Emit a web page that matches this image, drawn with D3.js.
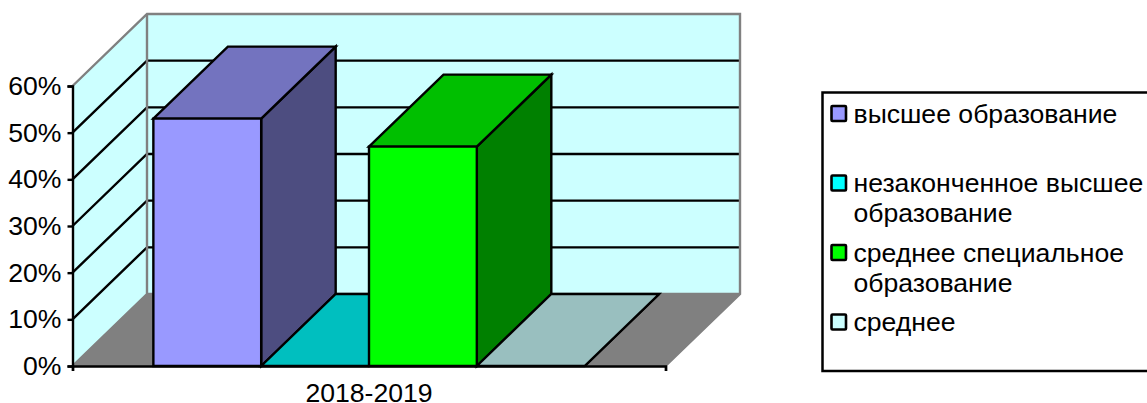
<!DOCTYPE html>
<html>
<head>
<meta charset="utf-8">
<script src="https://d3js.org/d3.v7.min.js"></script>
<style>
body { margin: 0; background: #fff; }
svg { display: block; }
text { font-family: "Liberation Sans", Arial, sans-serif; fill: #000; }
</style>
</head>
<body>
<div id="chart"></div>
<script>
const seriesNames = ["высшее образование", "незаконченное высшее образование", "среднее специальное образование", "среднее"];
const seriesValues = [53, 0, 47, 0];
const seriesColors = ["#9999ff", "#00ffff", "#00ff00", "#ccffff"];
const category = "2018-2019";
const yTicks = [0, 10, 20, 30, 40, 50, 60];
const legendLines = [["высшее образование"], ["незаконченное высшее", "образование"], ["среднее специальное", "образование"], ["среднее"]];

const width = 1147, height = 403;
const depthX = 74.5, depthY = 72;
const fontSize = 26.6;
const lineW = 2.4;

const svg = d3.select("#chart").append("svg")
    .attr("width", width)
    .attr("height", height);

const yScale = d3.scaleLinear().domain([0, 60]).range([366, 86]);
const xScale = d3.scaleBand()
    .domain(seriesNames)
    .range([72.5, 665.5])
    .paddingInner(0)
    .paddingOuter(0.75);

const x0 = xScale.range()[0], x1 = xScale.range()[1];
const y0 = yScale(0), yTop = yScale(60);

function poly(points, fill, stroke, sw) {
    svg.append("path")
        .attr("d", d3.line()(points) + "Z")
        .attr("fill", fill)
        .attr("stroke", stroke || "none")
        .attr("stroke-width", sw || 0);
}

function wire(points, color) {
    svg.append("path")
        .attr("d", d3.line()(points))
        .attr("fill", "none")
        .attr("stroke", color)
        .attr("stroke-width", lineW);
}

// walls and floor
poly([[x0, yTop], [x0 + depthX, yTop - depthY], [x1 + depthX, yTop - depthY], [x1 + depthX, y0 - depthY], [x0 + depthX, y0 - depthY], [x0, y0]], "#ccffff");
poly([[x0, y0], [x0 + depthX, y0 - depthY], [x1 + depthX, y0 - depthY], [x1, y0]], "#808080");

// grid lines
yTicks.slice(1, -1).forEach(t => {
    wire([[x0, yScale(t)], [x0 + depthX, yScale(t) - depthY], [x1 + depthX, yScale(t) - depthY]], "#000");
});

// wall outline
wire([[x0, yTop], [x0 + depthX, yTop - depthY], [x1 + depthX, yTop - depthY], [x1 + depthX, y0 - depthY], [x1, y0]], "#808080");
wire([[x0 + depthX, yTop - depthY], [x0 + depthX, y0 - depthY], [x0, y0]], "#808080");
wire([[x0 + depthX, y0 - depthY], [x1 + depthX, y0 - depthY]], "#808080");

// bars
seriesNames.forEach((name, i) => {
    const col = d3.rgb(seriesColors[i]);
    const shade = k => d3.rgb(col.r * k, col.g * k, col.b * k).formatHex();
    const l = xScale(name), r = l + xScale.bandwidth(), t = yScale(seriesValues[i]);
    poly([[r, t], [r + depthX, t - depthY], [r + depthX, y0 - depthY], [r, y0]], shade(0.5), "#000", lineW);
    poly([[l, t], [l + depthX, t - depthY], [r + depthX, t - depthY], [r, t]], shade(0.75), "#000", lineW);
    if (seriesValues[i] > 0) poly([[l, t], [r, t], [r, y0], [l, y0]], seriesColors[i], "#000", lineW);
});

// axes
const yAxis = d3.axisLeft(yScale)
    .tickValues(yTicks)
    .tickFormat(d => d + "%")
    .tickSize(5)
    .tickPadding(6);
const yG = svg.append("g").attr("transform", `translate(${x0},0)`).call(yAxis);
yG.selectAll("path, line").attr("stroke", "#000").attr("stroke-width", lineW);
yG.selectAll("text")
    .attr("font-size", fontSize)
    .style("font-family", '"Liberation Sans", Arial, sans-serif')
    .attr("fill", "#000");

const xAxis = d3.axisBottom(d3.scaleLinear().domain([0, 1]).range([x0, x1]))
    .tickValues([0, 1])
    .tickFormat("")
    .tickSize(5);
const xG = svg.append("g").attr("transform", `translate(0,${y0})`).call(xAxis);
xG.selectAll("path, line").attr("stroke", "#000").attr("stroke-width", lineW);

svg.append("text")
    .attr("x", (x0 + x1) / 2)
    .attr("y", 401.5)
    .attr("text-anchor", "middle")
    .attr("font-size", fontSize)
    .text(category);

// legend
svg.append("rect")
    .attr("x", 822.5).attr("y", 92.5)
    .attr("width", 340).attr("height", 278.5)
    .attr("fill", "#fff").attr("stroke", "#000").attr("stroke-width", 2.5);

const legendY = d3.scalePoint().domain(seriesNames).range([113.5, 322]);

seriesNames.forEach((name, i) => {
    const cy = legendY(name);
    svg.append("rect")
        .attr("x", 831.5).attr("y", cy - 7.5)
        .attr("width", 14.5).attr("height", 15)
        .attr("rx", 1)
        .attr("fill", seriesColors[i]).attr("stroke", "#000").attr("stroke-width", 2.6);
    legendLines[i].forEach((line, j) => {
        svg.append("text")
            .attr("x", 853.5)
            .attr("y", cy + 9 + j * 30)
            .attr("font-size", fontSize)
            .text(line);
    });
});
</script>
</body>
</html>
